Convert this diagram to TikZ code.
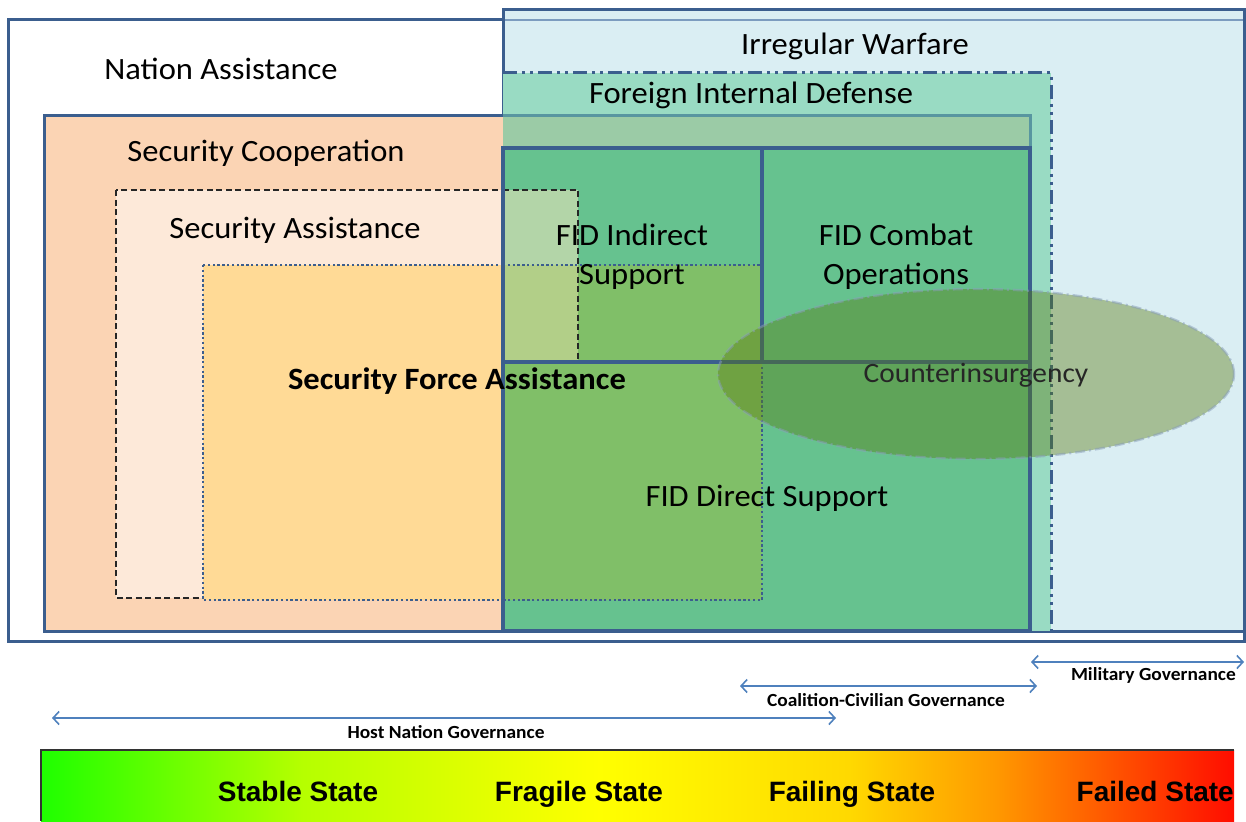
\documentclass[tikz,border=0pt]{standalone}
\usepackage{fontspec}
\setmainfont{Carlito}[FakeStretch=1.05]
\newfontfamily\barfont{Liberation Sans}
\usetikzlibrary{arrows.meta}
\definecolor{boxline}{RGB}{59,94,142}
\definecolor{lineseen}{RGB}{124,156,191}
\definecolor{scfaded}{RGB}{88,150,160}
\definecolor{iwfill}{RGB}{218,238,243}
\definecolor{fidfill}{RGB}{153,219,195}
\definecolor{scfill}{RGB}{251,212,180}
\definecolor{scband}{RGB}{155,203,166}
\definecolor{safill}{RGB}{253,233,217}
\definecolor{sfafill}{RGB}{255,218,150}
\definecolor{fidgreen}{RGB}{102,194,143}
\definecolor{sagreen}{RGB}{179,213,168}
\definecolor{sasfagreen}{RGB}{178,207,136}
\definecolor{sfagreen}{RGB}{128,191,104}
\definecolor{coinfill}{RGB}{86,120,10}
\definecolor{govarrow}{RGB}{79,129,189}
\pgfdeclarehorizontalshading{statebar}{100bp}{rgb(0bp)=(0.12,1,0); rgb(25bp)=(0.12,1,0); rgb(35.9bp)=(0.71,1,0); rgb(48.4bp)=(1,1,0); rgb(58.9bp)=(1,0.85,0); rgb(65bp)=(1,0.6,0); rgb(75bp)=(1,0.05,0); rgb(100bp)=(1,0.05,0)}

\begin{document}
\begin{tikzpicture}[x=1pt,y=-1pt,
    region/.style={draw=boxline,line width=3pt},
    fidborder/.style={draw=boxline,line width=3.6pt},
    fidline/.style={draw=boxline,line width=3pt,dash pattern=on 14pt off 5pt on 3pt off 5pt on 3pt off 5pt},
    saline/.style={draw=black!85,line width=1.1pt,dash pattern=on 6pt off 3.5pt},
    sfaline/.style={draw=boxline,line width=2.6pt,dash pattern=on 2.4pt off 2.4pt},
    lbl/.style={font=\fontsize{31}{39}\selectfont,align=center,inner sep=0pt},
    govlbl/.style={font=\fontsize{18.5}{20}\selectfont\bfseries,inner sep=0pt},
    statelbl/.style={font=\barfont\bfseries\fontsize{28}{32}\selectfont,inner sep=0pt,anchor=base},
    gov/.style={draw=govarrow,line width=1.6pt,{Straight Barb[length=6pt,width=13pt]}-{Straight Barb[length=6pt,width=13pt]}}]
    \useasboundingbox (0,0) rectangle (1246,821);
    \draw[region,fill=white] (8,20) rectangle (1244,641);
    \fill[iwfill] (503,10) rectangle (1244,631);
    \draw[lineseen,line width=2.4pt] (503,20) -- (1244,20);
    \draw[region] (503,10) rectangle (1244,631);
    \fill[fidfill] (503,73) rectangle (1051,631);
    \fill[scfill] (44,116) rectangle (503,631);
    \fill[scband] (503,116) rectangle (1030,148);
    \draw[region] (503,116) -| (44,631) -- (503,631);
    \draw[region,draw=scfaded] (503,116) -| (1030,148);
    \draw[saline,fill=safill] (116,190) rectangle (578,598);
    \draw[sfaline,fill=sfafill] (203,265) rectangle (762,600);
    \fill[fidgreen] (503,148) rectangle (1030,631);
    \fill[sagreen] (503,190) rectangle (578,265);
    \fill[sasfagreen] (503,265) rectangle (578,362);
    \fill[sfagreen] (578,265) rectangle (762,362) (503,362) rectangle (762,600);
    \draw[saline] (503,190) -| (578,362);
    \draw[sfaline] (503,265) -- (762,265) (762,362) |- (503,600);
    \foreach \a/\b/\c/\d in {503/148/762/362, 762/148/1030/362, 503/362/1030/631}
        \draw[fidborder] (\a,\b) rectangle (\c,\d);
    \draw[fidline] (503,73) -| (1051,631);
    \draw[fill=coinfill,fill opacity=0.4,draw=boxline!60,draw opacity=0.5,line width=2.4pt,
        dash pattern=on 10pt off 4pt on 2pt off 4pt] (976,374) ellipse [x radius=258pt,y radius=85pt];

    \node[lbl] (na) at (221,69) {Nation Assistance};
    \node[lbl] (iw) at (855,46) {Irregular Warfare};
    \node[lbl] (fid) at (751,95) {Foreign Internal Defense};
    \node[lbl] (sc) at (266,153) {Security Cooperation};
    \node[lbl] (sa) at (295,230) {Security Assistance};
    \node[lbl,font=\fontsize{31}{34}\selectfont\bfseries] (sfa) at (457,381) {Security Force Assistance};
    \node[lbl] (fidind) at (632,257) {FID Indirect\\Support};
    \node[lbl] (fidcom) at (896,257) {FID Combat\\Operations};
    \node[lbl,font=\fontsize{28}{30}\selectfont,text=black!85] (coin) at (976,375) {Counterinsurgency};
    \node[lbl] (fiddir) at (767,498) {FID Direct Support};

    \coordinate (mil w) at (1031,662);
    \coordinate (mil e) at (1244,662);
    \coordinate (coal w) at (740,686);
    \coordinate (coal e) at (1037,686);
    \coordinate (host w) at (52,718);
    \coordinate (host e) at (836,718);
    \draw[gov] (mil w) -- (mil e);
    \draw[gov] (coal w) -- (coal e);
    \draw[gov] (host w) -- (host e);
    \node[govlbl,anchor=east] (mil) at (1236,675) {Military Governance};
    \node[govlbl] (coal) at (886,700) {Coalition-Civilian Governance};
    \node[govlbl] (host) at (446,732) {Host Nation Governance};

    \shade[shading=statebar] (41,750) rectangle (1234,821);
    \draw[black!80,line width=1.5pt] (41,821) |- (1234,750);
    \foreach \x/\t [count=\i] in {298/Stable State, 579/Fragile State, 852/Failing State}
        \node[statelbl] (state\i) at (\x,801) {\t};
    \node[statelbl,anchor=base east] (state4) at (1234,801) {Failed State};
\end{tikzpicture}
\end{document}
